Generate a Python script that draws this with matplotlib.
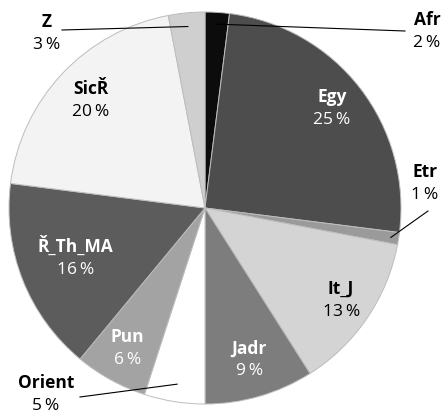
import numpy as np
import matplotlib
matplotlib.use("Agg")
import matplotlib.pyplot as plt

categories = ["Afr", "Egy", "Etr", "It_J", "Jadr", "Orient", "Pun", "Ř_Th_MA", "SicŘ", "Z"]
values = [2, 25, 1, 13, 9, 5, 6, 16, 20, 3]
colors = ["#0c0c0c", "#4d4d4d", "#9a9a9a", "#d4d4d4", "#7d7d7d", "#ffffff",
          "#a3a3a3", "#5c5c5c", "#f3f3f3", "#cfcfcf"]

plt.rcParams['font.family'] = ['Open Sans', 'DejaVu Sans']

W, H = 443, 413
fig = plt.figure(figsize=(W / 100, H / 100), dpi=100)
ax = fig.add_axes([0, 0, 1, 1])

cx, cy, R = 205, H - 208, 196
wedges, _ = ax.pie(values, colors=colors, startangle=90, counterclock=False,
                   center=(cx, cy), radius=R,
                   wedgeprops=dict(edgecolor="#bdbdbd", linewidth=0.7))
ax.set_xlim(0, W)
ax.set_ylim(0, H)
ax.set_aspect('equal')
ax.axis('off')

# inner labels: (radius fraction, text color)
inner = {"Egy": (0.82, "white"), "SicŘ": (0.80, "black"), "Ř_Th_MA": (0.71, "white"),
         "It_J": (0.84, "black"), "Jadr": (0.81, "white"), "Pun": (0.82, "white")}
# outer labels: (text position in pixels, anchor fraction on wedge)
outer = {"Afr": ((427, 32), 0.94), "Z": ((47, 34), 0.93),
         "Etr": ((425, 184), 0.96), "Orient": ((46, 395), 0.91)}
outer_line_end = {"Afr": (405, 31), "Z": (62, 30), "Etr": (428, 211), "Orient": (80, 397)}

fs = 12.5
gap = 3
for w, cat, v in zip(wedges, categories, values):
    mid = np.deg2rad((w.theta1 + w.theta2) / 2)
    pct = f"{v}\u2009%"
    if cat in inner:
        f, col = inner[cat]
        x = cx + f * R * np.cos(mid)
        y = cy + f * R * np.sin(mid)
        ax.text(x, y + gap, cat, ha="center", va="bottom", fontsize=fs,
                fontweight="bold", color=col)
        ax.text(x, y - gap, pct, ha="center", va="top", fontsize=fs, color=col)
    else:
        (tx, ty), f = outer[cat]
        px = cx + f * R * np.cos(mid)
        py = cy + f * R * np.sin(mid)
        lx, ly = outer_line_end[cat]
        ax.plot([px, lx], [py, H - ly], color="black", lw=0.8)
        ax.text(tx, H - ty + gap, cat, ha="center", va="bottom", fontsize=fs,
                fontweight="bold", color="black")
        ax.text(tx, H - ty - gap, pct, ha="center", va="top", fontsize=fs, color="black")

fig.savefig("out.png", dpi=100)
